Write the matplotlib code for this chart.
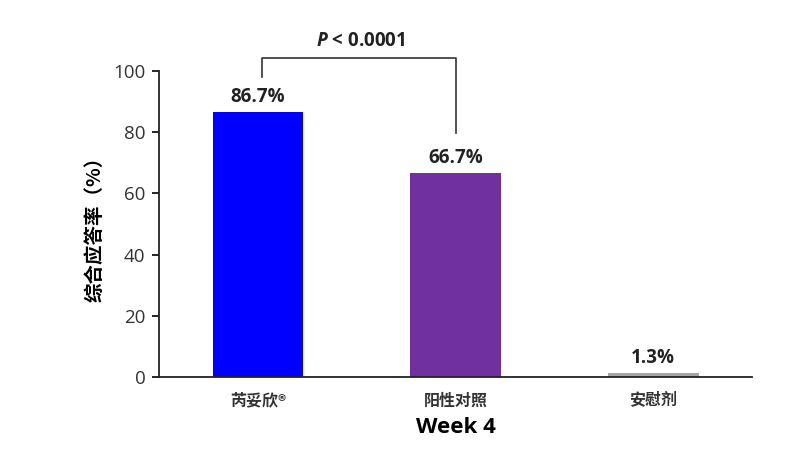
import matplotlib
matplotlib.use('Agg')
from matplotlib import pyplot as plt

plt.rcParams['font.family'] = ['Noto Sans CJK SC', 'DejaVu Sans']
plt.rcParams['mathtext.fontset'] = 'custom'
plt.rcParams['mathtext.it'] = 'Open Sans:italic:bold'

groups = ['芮妥欣®', '阳性对照', '安慰剂']
rates = [86.7, 66.7, 1.3]
labels = ['86.7%', '66.7%', '1.3%']
colors = ['#0000FF', '#7030A0', '#A6A6A6']
num_font = ['Open Sans', 'DejaVu Sans']

fig = plt.figure(figsize=(8, 4.57), dpi=100)
ax = fig.add_axes([0.199, 0.175, 0.741, 0.67])

x = range(len(groups))
ax.bar(x, rates, width=0.46, color=colors)
for i in x:
    ax.text(i, rates[i] + 1.5, labels[i], ha='center', va='bottom', family=num_font,
            fontsize=13.5, fontweight='bold', color='#222222')

# significance bracket
ax.plot([0.02, 0.02, 1.0, 1.0], [98, 104.2, 104.2, 79.7], color='#333333',
        lw=1.2, clip_on=False)
ax.text(0.52, 106.5, '$P$ < 0.0001', ha='center', va='bottom', family=num_font,
        fontsize=13.5, fontweight='bold', color='#222222')

ax.set_xlim(-0.5, 2.5)
ax.set_ylim(0, 100)
ax.set_yticks([0, 20, 40, 60, 80, 100])
ax.set_yticklabels(['0', '20', '40', '60', '80', '100'], family=num_font)
ax.set_xticks(list(x))
ax.set_xticklabels(groups, fontsize=11.5, fontweight='bold', color='#333333')
ax.tick_params(axis='x', length=0, pad=11)
ax.tick_params(axis='y', labelsize=13.5, labelcolor='#333333', length=5, width=1.2, pad=5)
for s in ['top', 'right']:
    ax.spines[s].set_visible(False)
for s in ['left', 'bottom']:
    ax.spines[s].set_linewidth(1.3)
    ax.spines[s].set_color('#222222')

ax.set_ylabel('综合应答率（%）', fontsize=14, fontweight='bold', labelpad=6)
ax.set_xlabel('Week 4', fontsize=16, fontweight='bold', labelpad=6, family=num_font)

plt.savefig('out.png')
